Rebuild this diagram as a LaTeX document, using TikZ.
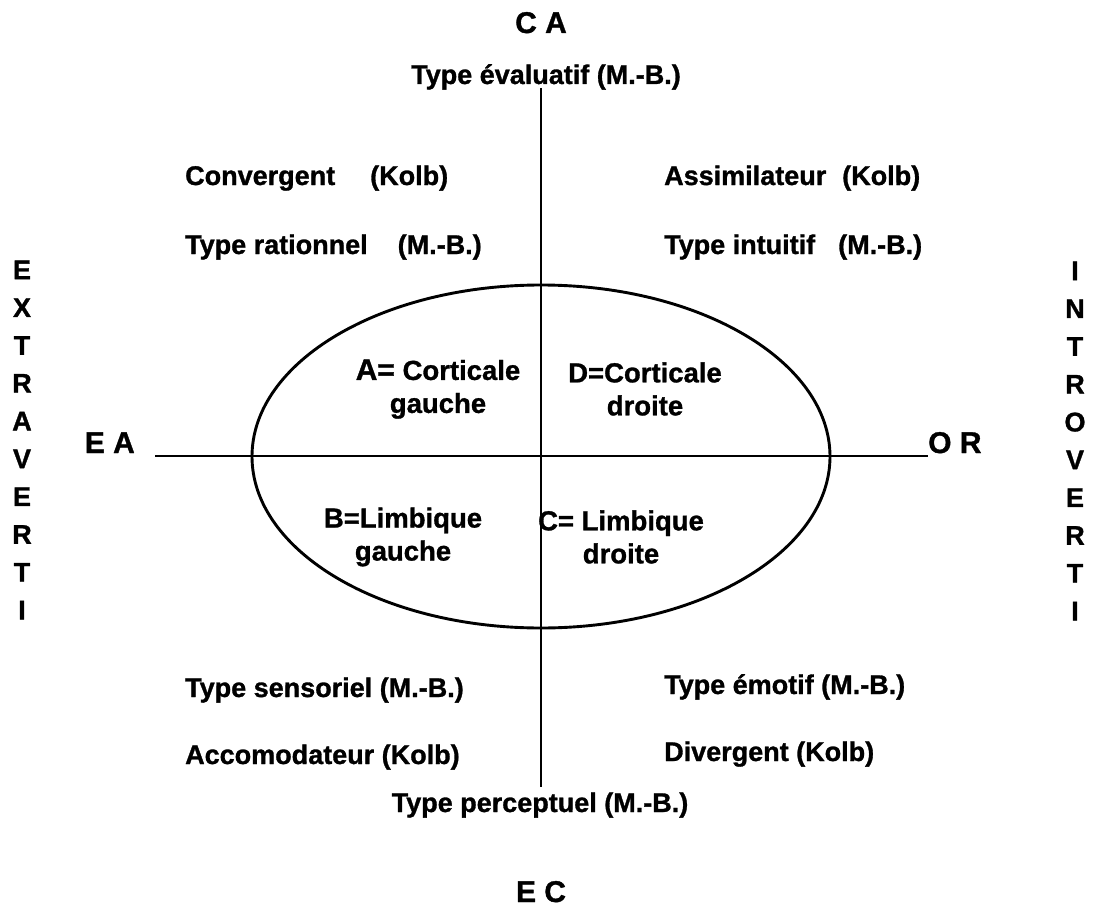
\documentclass[tikz,border=0pt]{standalone}
\usepackage{fontspec}
\setmainfont[BoldFeatures={FakeBold=1.1}]{Liberation Sans}
\begin{document}
\begin{tikzpicture}[x=1pt,y=-1pt,
  lab/.style={font=\fontsize{27}{33}\selectfont\bfseries, inner sep=0pt},
  quad/.style={font=\fontsize{27.5}{33}\selectfont\bfseries, inner sep=0pt, align=center},
  pole/.style={font=\fontsize{30}{34}\selectfont\bfseries, inner sep=0pt},
  vword/.style={font=\fontsize{27}{37.8}\selectfont\bfseries, inner sep=0pt, align=center},
  axis/.style={line width=2.9pt}]
\useasboundingbox (0,0) rectangle (1100,915);

% poles of the two axes
\node[pole, anchor=base] (ca) at (541,33) {C A};
\node[pole, anchor=base] (ec) at (541,902) {E C};
\node[pole, anchor=base east] (ea) at (135,453) {E A};
\node[pole, anchor=base west] (or) at (928,453) {O R};

% side words
\node[vword] (extra) at (22,440) {E\\X\\T\\R\\A\\V\\E\\R\\T\\I};
\node[vword] (intro) at (1075,441) {I\\N\\T\\R\\O\\V\\E\\R\\T\\I};

% top and bottom types
\node[lab, anchor=base] (eval) at (546,84) {Type évaluatif (M.-B.)};
\node[lab, anchor=base] (perc) at (540,812) {Type perceptuel (M.-B.)};

% axes
\coordinate (vtop) at (541,88);
\coordinate (vbot) at (541,787);
\coordinate (hleft) at (155,456);
\draw[axis] (vtop) -- (vbot);
\draw[axis] (hleft) -- (or.west |- hleft);

% brain ellipse
\draw[axis] (541,456.5) ellipse [x radius=289, y radius=171.5];

% quadrants
\node[quad] (qa) at (438,389) {{\fontsize{30}{33}\selectfont A=} Corticale\\gauche};
\node[quad] (qd) at (645,389) {D=Corticale\\droite};
\node[quad] (qb) at (403,537) {B=Limbique\\gauche};
\node[quad] (qc) at (621,537) {C= Limbique\\droite};

% learning styles, left column
\node[lab, anchor=base west] (conv) at (185,185) {Convergent\hspace{35pt}(Kolb)};
\node[lab, anchor=base west] (rat) at (185,254) {Type rationnel\hspace{30pt}(M.-B.)};
\node[lab, anchor=base west] (sens) at (185,697) {Type sensoriel (M.-B.)};
\node[lab, anchor=base west] (acc) at (185,764) {Accomodateur (Kolb)};

% learning styles, right column
\node[lab, anchor=base west] (assim) at (664,185) {Assimilateur\hspace{16pt}(Kolb)};
\node[lab, anchor=base west] (intu) at (664,254) {Type intuitif\hspace{23pt}(M.-B.)};
\node[lab, anchor=base west] (emo) at (664,694) {Type émotif (M.-B.)};
\node[lab, anchor=base west] (div) at (664,761) {Divergent (Kolb)};
\end{tikzpicture}
\end{document}
